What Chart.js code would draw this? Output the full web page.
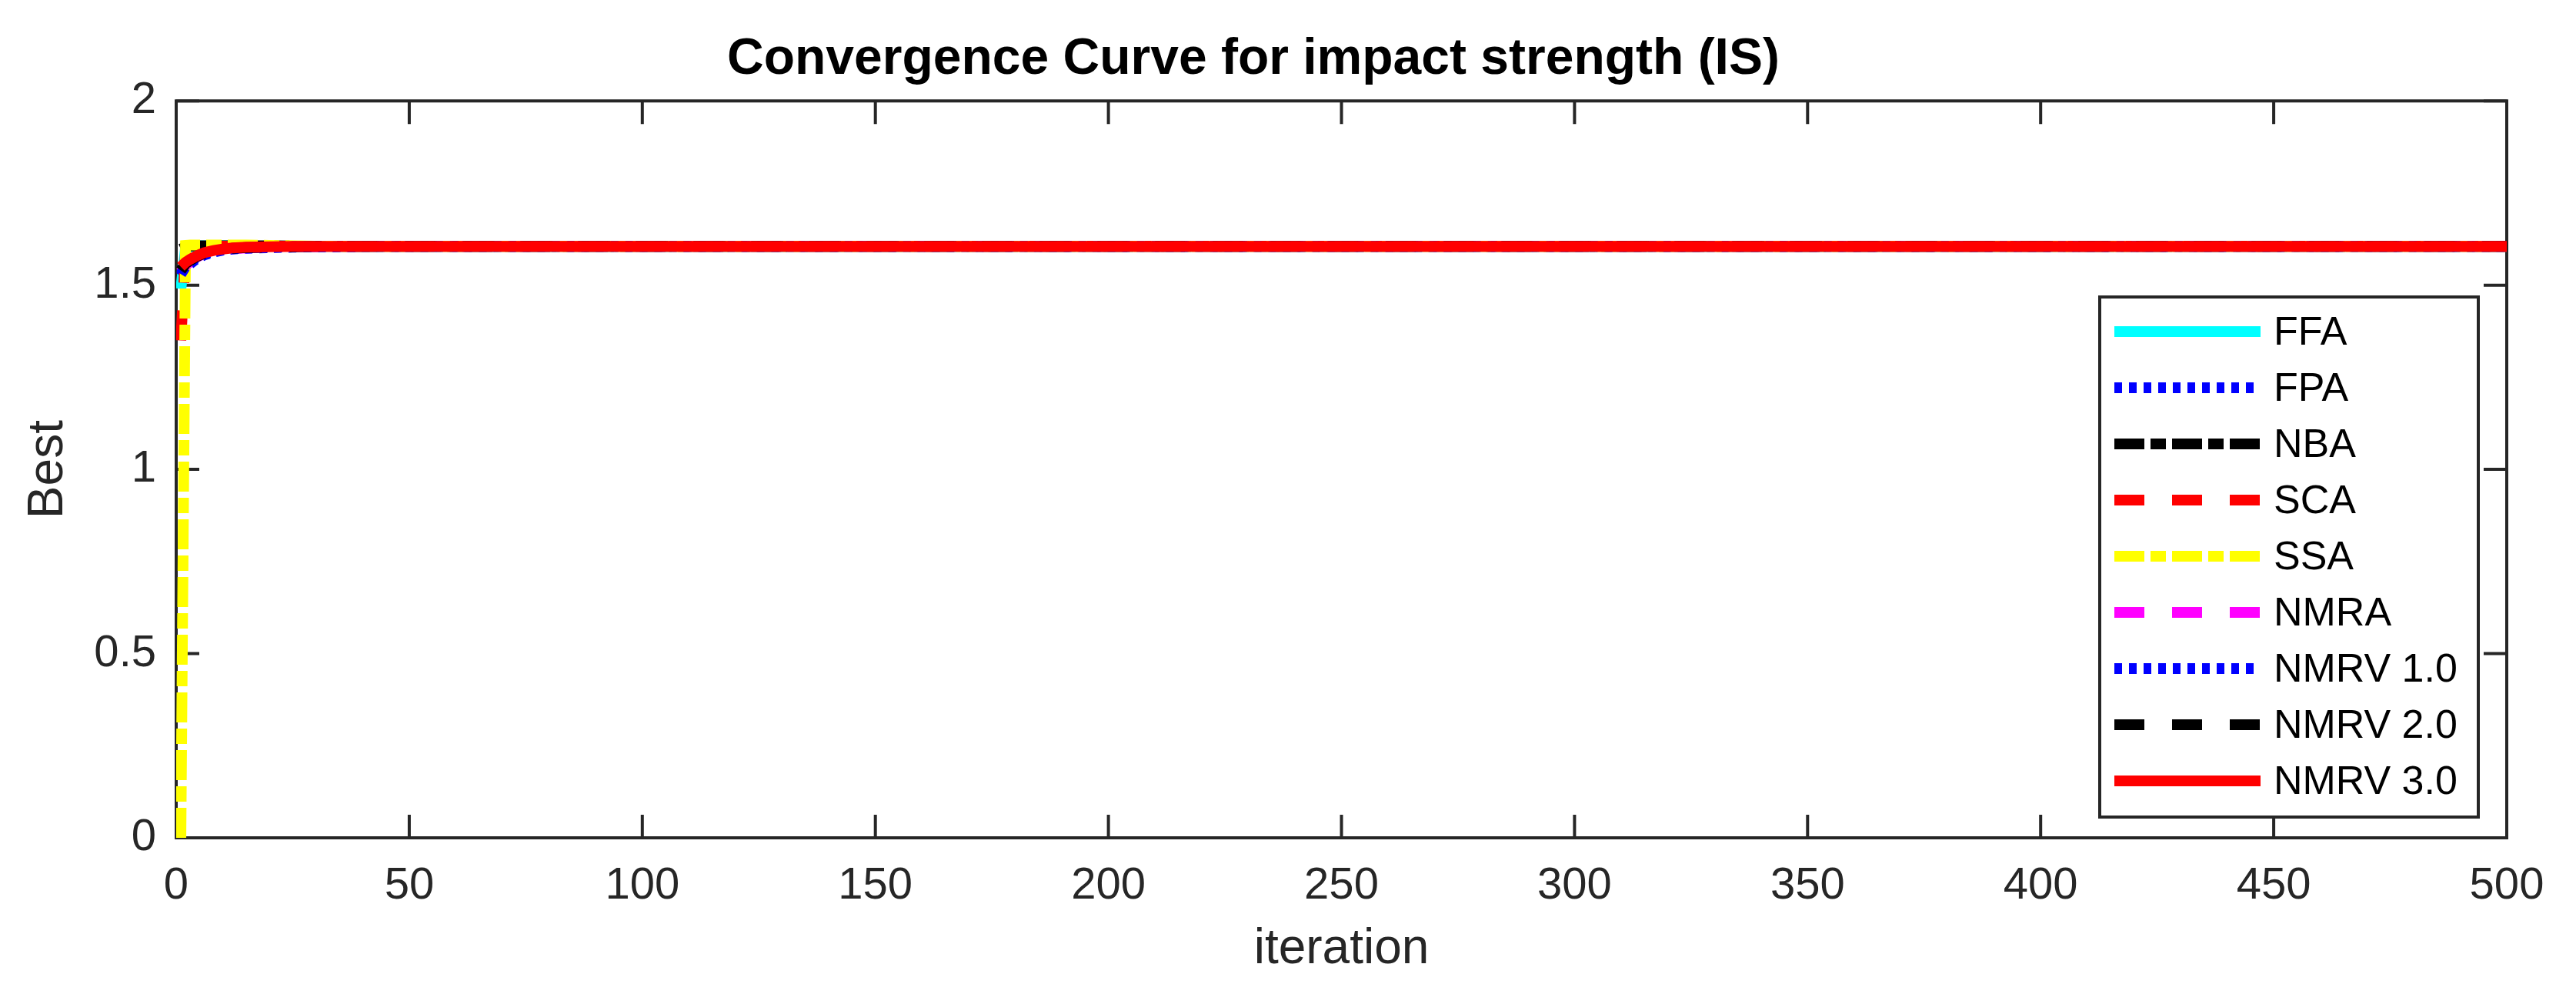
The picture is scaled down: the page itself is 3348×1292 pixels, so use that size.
<!DOCTYPE html>
<html>
<head>
<meta charset="utf-8">
<title>Convergence Curve for impact strength (IS)</title>
<script src="https://cdn.jsdelivr.net/npm/chart.js@4.4.1/dist/chart.umd.min.js"></script>
<style>
  html, body { margin: 0; padding: 0; background: #ffffff; }
  #wrap { width: 3348px; height: 1292px; }
</style>
</head>
<body>
<div id="wrap"><canvas id="chart" width="3348" height="1292"></canvas></div>
<script>
var iterations = [1, 2, 3, 4, 5, 6, 8, 10, 12, 15, 20, 25, 30, 40, 500];

var ffa    = [1.490, 1.600, 1.604, 1.606, 1.607, 1.607, 1.607, 1.607, 1.607, 1.606, 1.606, 1.606, 1.605, 1.605, 1.605];
var fpa    = [1.525, 1.545, 1.558, 1.568, 1.576, 1.582, 1.590, 1.595, 1.598, 1.600, 1.602, 1.603, 1.604, 1.605, 1.605];
var nba    = [1.598, 1.604, 1.606, 1.607, 1.607, 1.607, 1.607, 1.607, 1.607, 1.607, 1.607, 1.606, 1.606, 1.605, 1.605];
var sca    = [1.350, 1.590, 1.600, 1.604, 1.606, 1.606, 1.606, 1.606, 1.606, 1.606, 1.606, 1.605, 1.605, 1.605, 1.605];
var ssa    = [0.000, 1.608, 1.609, 1.609, 1.609, 1.609, 1.609, 1.609, 1.609, 1.609, 1.608, 1.607, 1.606, 1.605, 1.605];
var nmra   = [1.535, 1.553, 1.564, 1.573, 1.580, 1.586, 1.592, 1.596, 1.599, 1.601, 1.603, 1.604, 1.604, 1.605, 1.605];
var nmrv10 = [1.530, 1.550, 1.562, 1.571, 1.578, 1.584, 1.591, 1.596, 1.599, 1.601, 1.603, 1.604, 1.604, 1.605, 1.605];
var nmrv20 = [1.540, 1.558, 1.567, 1.575, 1.581, 1.586, 1.593, 1.597, 1.600, 1.602, 1.603, 1.604, 1.605, 1.605, 1.605];
var nmrv30 = [1.550, 1.562, 1.570, 1.577, 1.583, 1.588, 1.594, 1.598, 1.601, 1.603, 1.604, 1.605, 1.605, 1.605, 1.605];

var seriesNames = ['FFA', 'FPA', 'NBA', 'SCA', 'SSA', 'NMRA', 'NMRV 1.0', 'NMRV 2.0', 'NMRV 3.0'];
var xTickLabels = ['0', '50', '100', '150', '200', '250', '300', '350', '400', '450', '500'];
var yTickLabels = ['0', '0.5', '1', '1.5', '2'];

var axisColor = '#262626';
var fontFamily = '"Liberation Sans", Arial, Helvetica, sans-serif';

var styles = [
    { color: '#00ffff', dash: [] },
    { color: '#0000ff', dash: [10, 9] },
    { color: '#000000', dash: [39, 8, 20, 8] },
    { color: '#ff0000', dash: [39, 36] },
    { color: '#ffff00', dash: [39, 8, 20, 8] },
    { color: '#ff00ff', dash: [39, 36] },
    { color: '#0000ff', dash: [10, 9] },
    { color: '#000000', dash: [39, 36] },
    { color: '#ff0000', dash: [] }
];

function toPoints(values) {
    return values.map(function(v, i) {
        return { x: iterations[i], y: v };
    });
}

var allValues = [ffa, fpa, nba, sca, ssa, nmra, nmrv10, nmrv20, nmrv30];

var datasets = allValues.map(function(values, i) {
    return {
        label: seriesNames[i],
        data: toPoints(values),
        borderColor: styles[i].color,
        backgroundColor: styles[i].color,
        borderWidth: 14,
        borderDash: styles[i].dash,
        borderCapStyle: 'butt',
        pointRadius: 0,
        fill: false,
        tension: 0,
        // later series sit on top, like the original plot
        order: allValues.length - 1 - i
    };
});

/**
 * Box round the axes with inward ticks on all four sides
 */
var axesBox = {
    id: 'axesBox',
    beforeDatasetsDraw: function(chart) {
        var ctx = chart.ctx;
        var a = chart.chartArea;
        var xs = chart.scales.x;
        var ys = chart.scales.y;
        var tick = 30;

        ctx.save();
        ctx.strokeStyle = axisColor;
        ctx.lineWidth = 4;
        ctx.setLineDash([]);
        ctx.strokeRect(a.left, a.top, a.right - a.left, a.bottom - a.top);

        ctx.beginPath();
        xs.ticks.forEach(function(t) {
            var px = xs.getPixelForValue(t.value);
            ctx.moveTo(px, a.bottom);
            ctx.lineTo(px, a.bottom - tick);
            ctx.moveTo(px, a.top);
            ctx.lineTo(px, a.top + tick);
        });
        ys.ticks.forEach(function(t) {
            var py = ys.getPixelForValue(t.value);
            ctx.moveTo(a.left, py);
            ctx.lineTo(a.left + tick, py);
            ctx.moveTo(a.right, py);
            ctx.lineTo(a.right - tick, py);
        });
        ctx.stroke();
        ctx.restore();
    }
};

/**
 * Legend box inside the plot, top right
 */
var boxLegend = {
    id: 'boxLegend',
    afterDraw: function(chart) {
        var ctx = chart.ctx;
        var left = 2729, top = 386, right = 3221, bottom = 1062;
        var rowY = 431, rowStep = 73;

        ctx.save();
        ctx.fillStyle = '#ffffff';
        ctx.fillRect(left, top, right - left, bottom - top);
        ctx.strokeStyle = axisColor;
        ctx.lineWidth = 4;
        ctx.setLineDash([]);
        ctx.strokeRect(left, top, right - left, bottom - top);

        ctx.font = '52px ' + fontFamily;
        ctx.textBaseline = 'middle';
        ctx.textAlign = 'left';

        chart.data.datasets.forEach(function(ds, i) {
            var y = rowY + i * rowStep;
            ctx.beginPath();
            ctx.strokeStyle = ds.borderColor;
            ctx.lineWidth = 14;
            ctx.lineCap = 'butt';
            ctx.setLineDash(ds.borderDash);
            ctx.moveTo(2748, y);
            ctx.lineTo(2938, y);
            ctx.stroke();

            ctx.fillStyle = '#000000';
            ctx.fillText(ds.label, 2955, y + 3);
        });
        ctx.restore();
    }
};

var ctx = document.getElementById('chart').getContext('2d');

new Chart(ctx, {
    type: 'line',
    data: { datasets: datasets },
    options: {
        responsive: false,
        animation: false,
        devicePixelRatio: 1,
        layout: {
            padding: { left: 0, right: 90, top: 0, bottom: 0 }
        },
        plugins: {
            legend: { display: false },
            tooltip: { enabled: false },
            title: {
                display: true,
                text: 'Convergence Curve for impact strength (IS)',
                color: '#000000',
                font: { family: fontFamily, size: 66, weight: 'bold', lineHeight: 1.2 },
                padding: { top: 38, bottom: 14 }
            }
        },
        scales: {
            x: {
                type: 'linear',
                min: 0,
                max: 500,
                grid: { display: false, drawTicks: false },
                border: { display: false },
                ticks: {
                    stepSize: 50,
                    color: axisColor,
                    padding: 28,
                    maxRotation: 0,
                    font: { family: fontFamily, size: 58, lineHeight: 1.2 },
                    callback: function(value, index) {
                        return xTickLabels[index];
                    }
                },
                title: {
                    display: true,
                    text: 'iteration',
                    color: axisColor,
                    font: { family: fontFamily, size: 64, lineHeight: 1.2 },
                    padding: { top: 0, bottom: 19 }
                },
                afterFit: function(scale) {
                    scale.height = 203;
                }
            },
            y: {
                min: 0,
                max: 2,
                grid: { display: false, drawTicks: false },
                border: { display: false },
                ticks: {
                    stepSize: 0.5,
                    color: axisColor,
                    padding: 26,
                    font: { family: fontFamily, size: 58, lineHeight: 1.2 },
                    callback: function(value, index) {
                        return yTickLabels[index];
                    }
                },
                title: {
                    display: true,
                    text: 'Best',
                    color: axisColor,
                    font: { family: fontFamily, size: 64, lineHeight: 1.2 },
                    padding: { top: 25, bottom: 0 }
                },
                afterFit: function(scale) {
                    scale.width = 229;
                }
            }
        }
    },
    plugins: [axesBox, boxLegend]
});
</script>
</body>
</html>
